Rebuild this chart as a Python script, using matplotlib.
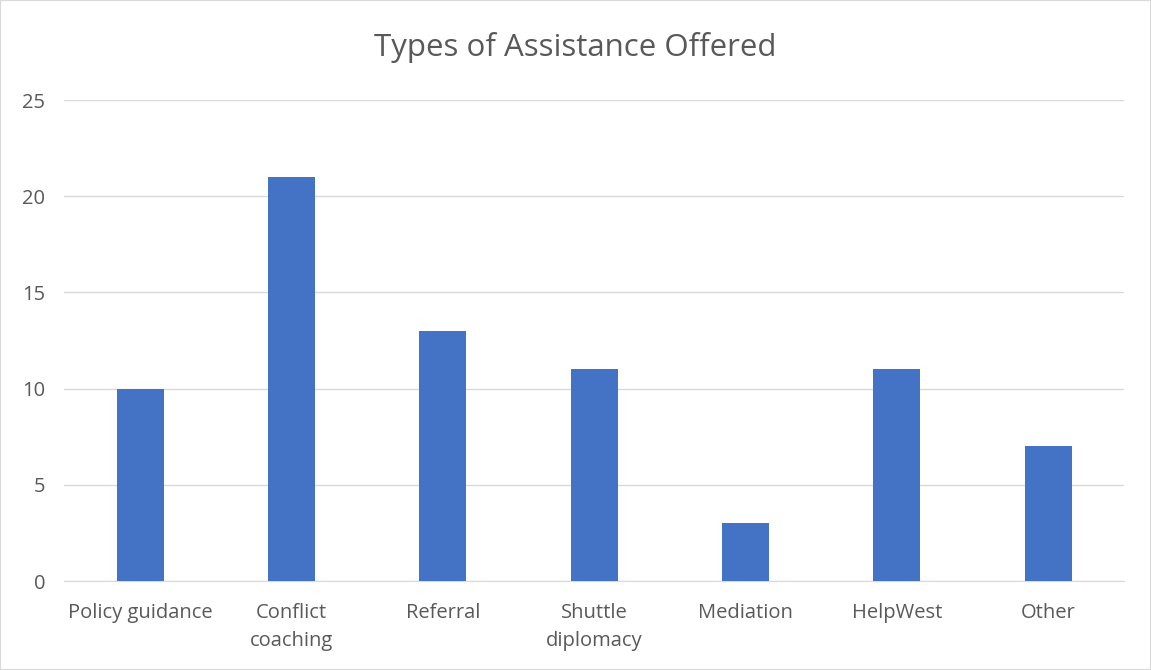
import matplotlib
matplotlib.use("Agg")
import matplotlib.pyplot as plt
from matplotlib.patches import Rectangle

categories = ["Policy guidance", "Conflict\ncoaching", "Referral", "Shuttle\ndiplomacy", "Mediation", "HelpWest", "Other"]
values = [10, 21, 13, 11, 3, 11, 7]
yticks = [0, 5, 10, 15, 20, 25]

plt.rcParams['font.family'] = ['Open Sans', 'DejaVu Sans']
text_color = "#595959"

fig = plt.figure(figsize=(11.51, 6.70), dpi=100)
ax = fig.add_axes([0.056, 0.1328, 0.9205, 0.7179])
x = range(len(categories))
ax.bar(x, values, width=0.31, color="#4472C4", zorder=3)
ax.set_xlim(-0.5, len(categories) - 0.5)
ax.set_ylim(0, 25)
ax.set_yticks(yticks)
ax.set_xticks(list(x))
ax.set_xticklabels(categories, fontsize=14.5, color=text_color, linespacing=1.5)
ax.tick_params(axis='y', labelsize=14.5, labelcolor=text_color, length=0, pad=14)
ax.tick_params(axis='x', length=0, pad=16)
ax.grid(axis='y', color="#D9D9D9", linewidth=1, zorder=0)
for s in ["top", "right", "left"]:
    ax.spines[s].set_visible(False)
ax.spines["bottom"].set_color("#D9D9D9")
fig.suptitle("Types of Assistance Offered", y=0.952, fontsize=22.5, color=text_color)
fig.patches.append(Rectangle((0, 0), 1, 1, transform=fig.transFigure, fill=False,
                             edgecolor="#D9D9D9", linewidth=1.5))
fig.savefig("out.png", dpi=100)
